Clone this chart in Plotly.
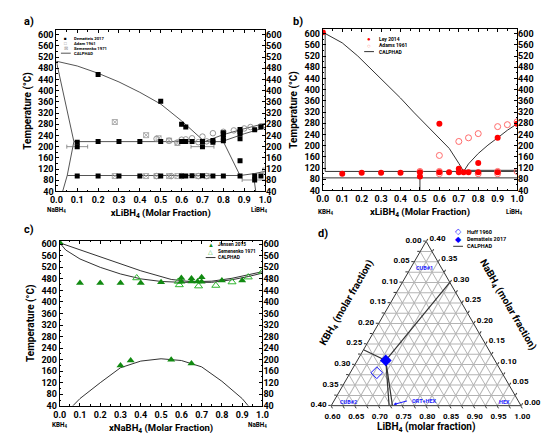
import plotly.graph_objects as go

W, H = 550, 439
FONT = "Roboto"

# ---------------- Panel a : NaBH4 - LiBH4 ----------------
a_dem_x = [0.1, 0.1, 0.1, 0.2, 0.2, 0.2, 0.3, 0.3, 0.4, 0.4, 0.5, 0.5, 0.5,
           0.6, 0.6, 0.6, 0.62, 0.62, 0.62, 0.65, 0.65, 0.7, 0.7, 0.7,
           0.75, 0.75, 0.75, 0.8, 0.8, 0.8, 0.8, 0.8,
           0.88, 0.88, 0.88, 0.88, 0.88, 0.88, 0.95, 0.95, 0.95, 0.98, 0.98]
a_dem_y = [216, 200, 95, 458, 218, 95, 218, 95, 218, 95, 362, 218, 95,
           280, 218, 95, 270, 218, 95, 218, 96, 218, 200, 96,
           222, 216, 95, 250, 243, 230, 221, 95,
           261, 253, 246, 228, 150, 95, 260, 95, 81, 270, 95]
a_dem_err = [0, 0.05, 0, 0, 0, 0, 0, 0, 0, 0, 0, 0, 0,
             0, 0, 0, 0, 0, 0, 0, 0, 0, 0.055, 0,
             0, 0, 0, 0, 0, 0, 0, 0,
             0, 0, 0, 0, 0, 0, 0, 0, 0.06, 0, 0]
a_adam_x = [0.48, 0.54, 0.58, 0.6, 0.62, 0.65, 0.68, 0.7, 0.72, 0.75, 0.8, 0.85,
            0.9, 0.93, 0.98, 0.48, 0.55, 0.6, 0.68, 0.72]
a_adam_y = [228, 221, 215, 225, 226, 230, 216, 236, 219, 248, 253, 258,
            265, 270, 273, 95, 95, 95, 95, 95]
a_sem_x = [0.28, 0.43, 0.49, 0.54, 0.58, 0.28, 0.43, 0.48, 0.54, 0.58, 0.68, 0.72, 1.0]
a_sem_y = [288, 241, 230, 222, 213, 95, 95, 95, 95, 95, 95, 95, 115]
a_cal_x = [0, 0.1, 0.2, 0.3, 0.4, 0.5, 0.6, 0.65, 0.71, None,
           0.71, 0.8, 0.9, 1.0, None,
           0.8, 0.9, 1.0, None,
           0.084, 0.8, None,
           0, 0.01, 0.02, 0.035, 0.05, 0.065, 0.084, 0.052, 0.03, None,
           0.052, 0.88, None,
           0.8, 0.88, None,
           0.88, 0.95, 1.0, None,
           0.945, 0.955]
a_cal_y = [505, 488, 462, 431, 394, 352, 292, 258, 218, None,
           218, 243, 264, 283, None,
           220, 246, 268, None,
           218, 218, None,
           505, 470, 430, 380, 330, 275, 218, 97, 40, None,
           97, 97, None,
           218, 97, None,
           97, 104, 112, None,
           97, 40]

# ---------------- Panel b : KBH4 - LiBH4 ----------------
b_ley_x = [0, 0.1, 0.2, 0.3, 0.4, 0.5, 0.5, 0.6, 0.6, 0.65, 0.7, 0.7, 0.725,
           0.75, 0.8, 0.8, 0.9, 0.9, 1.0]
b_ley_y = [605, 100, 103, 103, 103, 105, 90, 105, 278, 105, 105, 118, 105,
           105, 105, 138, 105, 228, 278]
b_adams_x = [0.5, 0.6, 0.6, 0.6, 0.7, 0.75, 0.8, 0.8, 0.9, 0.9, 0.9, 0.95, 1.0, 1.0]
b_adams_y = [108, 165, 108, 100, 215, 228, 243, 100, 268, 108, 100, 275, 285, 108]
b_cal_x = [0, 0.1, 0.18, 0.3, 0.4, 0.467, 0.55, 0.651, 0.7, 0.725, None,
           0.725, 0.75, 0.8, 0.85, 0.9, 0.95, 1.0, None,
           0.012, 0.012, None,
           0.012, 1.0, None,
           0.73, 1.0, None,
           0, 1.0, None,
           0.5, 0.5]
b_cal_y = [605, 567, 520, 440, 370, 320, 262, 190, 137, 108, None,
           108, 135, 172, 202, 228, 255, 278, None,
           600, 108, None,
           108, 108, None,
           112, 112, None,
           85, 85, None,
           40, 108]

# ---------------- Panel c : KBH4 - NaBH4 ----------------
c_jen_x = [0, 0.1, 0.2, 0.3, 0.4, 0.5, 0.6, 0.6, 0.65, 0.65, 0.68, 0.7, 0.7,
           0.8, 0.9, 0.3, 0.35, 0.55, 0.65]
c_jen_y = [606, 466, 466, 466, 466, 468, 483, 470, 481, 471, 471, 486, 470,
           474, 474, 180, 197, 200, 187]
c_sem_x = [0.38, 0.585, 0.59, 0.685, 0.77, 0.85, 0.93, 1.0]
c_sem_y = [483, 471, 459, 455, 457, 469, 486, 505]
c_cal_x = [0, 0.2, 0.4, 0.55, 0.65, 0.75, 0.85, 1.0, None,
           0, 0.03, 0.1, 0.2, 0.3, 0.4, 0.5, 0.6, 0.75, 0.85, 0.93, 1.0, None,
           0.065, 0.1, 0.2, 0.3, 0.4, 0.5, 0.6, 0.7, 0.8, 0.9, 0.93]
c_cal_y = [605, 556, 508, 478, 470, 472, 482, 505, None,
           605, 580, 549, 520, 497, 480, 471, 468, 468, 477, 488, 500, None,
           40, 65, 120, 172, 195, 203, 197, 175, 125, 65, 40]

# ---------------- Panel d : ternary LiBH4-NaBH4-KBH4 ----------------
d_huff_li, d_huff_na, d_huff_k = [0.656], [0.080], [0.264]
d_dem_li, d_dem_na, d_dem_k = [0.66], [0.11], [0.23]
d_cal_li = [0.66, 0.70, None, 0.66, 0.60, None, 0.66, 0.722, None, 0.66, 0.729]
d_cal_na = [0.11, 0.30, None, 0.11, 0.136, None, 0.11, 0.0, None, 0.11, 0.0]
d_cal_k = [0.23, 0.0, None, 0.23, 0.264, None, 0.23, 0.278, None, 0.23, 0.271]
d_tickvals_low = [0, 0.025, 0.05, 0.075, 0.10, 0.125, 0.15, 0.175, 0.20,
                  0.225, 0.25, 0.275, 0.30, 0.325, 0.35, 0.375, 0.40]
d_tickvals_li = [0.60, 0.625, 0.65, 0.675, 0.70, 0.725, 0.75, 0.775, 0.80,
                 0.825, 0.85, 0.875, 0.90, 0.925, 0.95, 0.975, 1.00]
d_text_k = ["0.40", "", "0.35", "", "0.30", "", "0.25", "", "0.20",
            "", "0.15", "", "0.10", "", "0.05", "", "0.00"]
d_text_li = ["1.00", "", "0.95", "", "0.90", "", "0.85", "", "0.80",
             "", "0.75", "", "0.70", "", "0.65", "", "0.60"]
d_text_na = ["0.40", "", "0.35", "", "0.30", "", "0.25", "", "0.20",
             "", "0.15", "", "0.10", "", "0.05", "", "0.00"]

y_ticks = list(range(40, 601, 40))
x_ticks = [round(i * 0.1, 1) for i in range(11)]


def px(x):
    return x / W


def py(y):
    return 1 - y / H


fig = go.Figure()

# panel a traces
fig.add_trace(go.Scatter(x=a_cal_x, y=a_cal_y, mode="lines", line=dict(color="#555", width=1),
                         xaxis="x", yaxis="y", showlegend=False, name="CALPHAD"))
fig.add_trace(go.Scatter(x=a_adam_x, y=a_adam_y, mode="markers", xaxis="x", yaxis="y",
                         marker=dict(symbol="circle-open", size=5.5, color="#8a8a8a", line=dict(width=0.9)),
                         showlegend=False, name="Adam 1961"))
fig.add_trace(go.Scatter(x=a_sem_x, y=a_sem_y, mode="markers", xaxis="x", yaxis="y",
                         marker=dict(symbol="square-x-open", size=5, color="#9a9a9a", line=dict(width=0.8)),
                         showlegend=False, name="Semenenko 1971"))
fig.add_trace(go.Scatter(x=a_dem_x, y=a_dem_y, mode="markers", xaxis="x", yaxis="y",
                         error_x=dict(type="data", array=a_dem_err, color="#777", thickness=0.8, width=2),
                         marker=dict(symbol="square", size=5, color="black"),
                         showlegend=False, name="Dematteis 2017"))
fig.add_trace(go.Scatter(x=a_cal_x, y=a_cal_y, mode="none", xaxis="x", yaxis="y2",
                         showlegend=False, hoverinfo="skip"))

# panel b traces
fig.add_trace(go.Scatter(x=b_cal_x, y=b_cal_y, mode="lines", line=dict(color="#333", width=1),
                         xaxis="x2", yaxis="y3", showlegend=False, name="CALPHAD"))
fig.add_trace(go.Scatter(x=b_adams_x, y=b_adams_y, mode="markers", xaxis="x2", yaxis="y3",
                         marker=dict(symbol="circle-open", size=6, color="#ff6b6b", line=dict(width=1)),
                         showlegend=False, name="Adams 1961"))
fig.add_trace(go.Scatter(x=b_ley_x, y=b_ley_y, mode="markers", xaxis="x2", yaxis="y3",
                         marker=dict(symbol="circle", size=6, color="#ff0000"),
                         showlegend=False, name="Ley 2014"))
fig.add_trace(go.Scatter(x=b_cal_x, y=b_cal_y, mode="none", xaxis="x2", yaxis="y4",
                         showlegend=False, hoverinfo="skip"))

# panel c traces
fig.add_trace(go.Scatter(x=c_cal_x, y=c_cal_y, mode="lines", line=dict(color="#333", width=1),
                         xaxis="x3", yaxis="y5", showlegend=False, name="CALPHAD"))
fig.add_trace(go.Scatter(x=c_sem_x, y=c_sem_y, mode="markers", xaxis="x3", yaxis="y5",
                         marker=dict(symbol="triangle-up-open", size=7, color="#2fb52f", line=dict(width=1)),
                         showlegend=False, name="Semenenko 1971"))
fig.add_trace(go.Scatter(x=c_jen_x, y=c_jen_y, mode="markers", xaxis="x3", yaxis="y5",
                         marker=dict(symbol="triangle-up", size=7, color="#118a11"),
                         showlegend=False, name="Jensen 2015"))
fig.add_trace(go.Scatter(x=c_cal_x, y=c_cal_y, mode="none", xaxis="x3", yaxis="y6",
                         showlegend=False, hoverinfo="skip"))

# panel d traces
fig.add_trace(go.Scatterternary(a=d_cal_na, b=d_cal_k, c=d_cal_li, mode="lines",
                                line=dict(color="#333", width=1.2), showlegend=False, name="CALPHAD"))
fig.add_trace(go.Scatterternary(a=d_huff_na, b=d_huff_k, c=d_huff_li, mode="markers",
                                marker=dict(symbol="diamond-open", size=9, color="#1a1aff", line=dict(width=1)),
                                showlegend=False, name="Huff 1960"))
fig.add_trace(go.Scatterternary(a=d_dem_na, b=d_dem_k, c=d_dem_li, mode="markers",
                                marker=dict(symbol="diamond", size=9, color="#0000ff"),
                                showlegend=False, name="Dematteis 2017"))

tickfont = dict(family=FONT, size=9, color="black", weight="bold")
titlefont = dict(family=FONT, size=10, color="black", weight="bold")


def xaxis(domain, anchor, title):
    return dict(domain=domain, anchor=anchor, range=[0, 1], tickvals=x_ticks, tickformat=".1f",
                ticks="inside", ticklen=3, tickwidth=1, tickcolor="black",
                minor=dict(ticks="inside", ticklen=1.5, dtick=0.05, tickcolor="black"),
                showline=True, linecolor="black", linewidth=1, mirror="ticks",
                showgrid=False, zeroline=False, tickfont=tickfont,
                title=dict(text=title, font=dict(family=FONT, size=9.5, color="black", weight="bold"),
                           standoff=5))


def yaxis(domain, anchor, rng):
    return dict(domain=domain, anchor=anchor, range=rng, tickvals=y_ticks,
                ticks="inside", ticklen=3, tickwidth=1, tickcolor="black",
                minor=dict(ticks="inside", ticklen=1.5, dtick=20, tickcolor="black"),
                showline=True, linecolor="black", linewidth=1, mirror="ticks",
                showgrid=False, zeroline=False, tickfont=tickfont,
                title=dict(text="Temperature (°C)", font=titlefont, standoff=4))


def yright(over, anchor, rng):
    return dict(overlaying=over, anchor=anchor, side="right", range=rng, tickvals=y_ticks,
                ticks="", showline=False, showgrid=False, zeroline=False, tickfont=tickfont)


a_xd = [px(43.3), px(256.7)]
a_yd = [py(185), py(21.7)]
b_xd = [px(315.7), px(514.3)]
b_yd = [py(184), py(20.7)]
c_xd = [px(46.7), px(254)]
c_yd = [py(402.3), py(235)]

ter_tickfont = dict(family=FONT, size=8, color="black", weight="bold")


def tax(vals, texts, mn):
    return dict(min=mn, tickmode="array", tickvals=vals, ticktext=texts, ticks="outside", ticklen=2.5,
                tickcolor="#333", linecolor="#333", linewidth=1, gridcolor="#b4b4b4", gridwidth=0.7,
                tickfont=ter_tickfont, title=dict(text=""), showgrid=True)


fig.update_layout(
    width=W, height=H, margin=dict(l=0, r=0, t=0, b=0),
    paper_bgcolor="white", plot_bgcolor="white", showlegend=False,
    font=dict(family=FONT, color="black"),
    xaxis=xaxis(a_xd, "y", "xLiBH<sub>4</sub> (Molar Fraction)"),
    yaxis=yaxis(a_yd, "x", [40, 615]),
    yaxis2=yright("y", "x", [40, 615]),
    xaxis2=xaxis(b_xd, "y3", "xLiBH<sub>4</sub> (Molar Fraction)"),
    yaxis3=yaxis(b_yd, "x2", [40, 615]),
    yaxis4=yright("y3", "x2", [40, 615]),
    xaxis3=xaxis(c_xd, "y5", "xNaBH<sub>4</sub> (Molar Fraction)"),
    yaxis5=yaxis(c_yd, "x3", [40, 612]),
    yaxis6=yright("y5", "x3", [40, 612]),
    ternary=dict(
        domain=dict(x=[px(324.3), px(518.3)], y=[py(402.7), py(235)]),
        sum=1, bgcolor="white",
        aaxis=tax(d_tickvals_low, d_text_k, 0),
        baxis=tax(d_tickvals_low, d_text_li, 0),
        caxis=tax(d_tickvals_li, d_text_na, 0.6),
    ),
)

ann = []


def text(x, y, s, size, color="black", xanchor="center", angle=0, bold=True):
    ann.append(dict(x=px(x), y=py(y), xref="paper", yref="paper", text=s, showarrow=False,
                    xanchor=xanchor, yanchor="middle", textangle=angle,
                    font=dict(family=FONT, size=size, color=color, weight="bold" if bold else "normal")))


# panel letters
text(15, 13, "a)", 11)
text(290, 13, "b)", 11)
text(15, 224, "c)", 11)
text(316, 228, "d)", 11)

# end-member labels
text(43, 204, "NaBH<sub>4</sub>", 6.3)
text(251, 204, "LiBH<sub>4</sub>", 6.3)
text(318, 206, "KBH<sub>4</sub>", 6.3)
text(512, 206, "LiBH<sub>4</sub>", 6.3)
text(47, 422, "KBH<sub>4</sub>", 6.3)
text(249, 422, "NaBH<sub>4</sub>", 6.3)

# legends (hand-built, compact)
shapes = []


def leg(x, y, sym, label, color, size, symsize=None, gap=6):
    if sym == "line":
        shapes.append(dict(type="line", xref="paper", yref="paper", x0=px(x - 5), x1=px(x + 5),
                           y0=py(y), y1=py(y), line=dict(color=color, width=1)))
    else:
        text(x, y, sym, symsize or size, color=color, bold=False)
    text(x + gap, y, label, size, xanchor="left")


leg(53, 29.5, "■", "Dematteis 2017", "black", 4.2, 4.5, 6)
leg(53, 34.6, "□", "Adam 1961", "#8a8a8a", 4.2, 4.5, 6)
leg(53, 39.7, "⊠", "Semenenko 1971", "#9a9a9a", 4.2, 4.5, 6)
leg(53, 44.8, "line", "CALPHAD", "#555", 4.2, None, 6)

leg(363, 30, "●", "Ley 2014", "#ff0000", 5, 6, 8)
leg(363, 36.6, "○", "Adams 1961", "#ff6b6b", 5, 6, 8)
leg(363, 43.2, "line", "CALPHAD", "#333", 5, None, 8)

leg(201, 238.8, "▲", "Jensen 2015", "#118a11", 4.8, 6, 6)
leg(201, 245.4, "△", "Semenenko 1971", "#2fb52f", 4.8, 6, 6)
leg(201, 252, "line", "CALPHAD", "#333", 4.8, None, 6)

leg(454, 226, "◇", "Huff 1960", "#1a1aff", 5.5, 8, 7)
leg(454, 233.3, "◆", "Dematteis 2017", "#0000ff", 5.5, 8, 7)
leg(454, 240.6, "line", "CALPHAD", "#333", 5.5, None, 7)

# ternary titles and region labels
text(421.5, 424, "LiBH<sub>4</sub> (molar fraction)", 10)
text(341, 298, "KBH<sub>4</sub> (molar fraction)", 10, angle=-60)
text(504, 300, "NaBH<sub>4</sub> (molar fraction)", 10, angle=60)
text(420, 262.5, "CUB#1", 5.5, color="#1a1aff")
text(342, 398.5, "CUB#2", 5.5, color="#1a1aff")
text(501, 398.5, "HEX", 5.5, color="#1a1aff")
text(405, 397.5, "ORT+HEX", 5.5, color="#1a1aff", xanchor="left")
ann.append(dict(x=px(388), y=py(401), xref="paper", yref="paper", ax=15, ay=-4,
                showarrow=True, arrowhead=2, arrowsize=0.6, arrowwidth=1, arrowcolor="#1a1aff", text=""))

fig.update_layout(annotations=ann, shapes=shapes)
fig.write_html("out.html")
